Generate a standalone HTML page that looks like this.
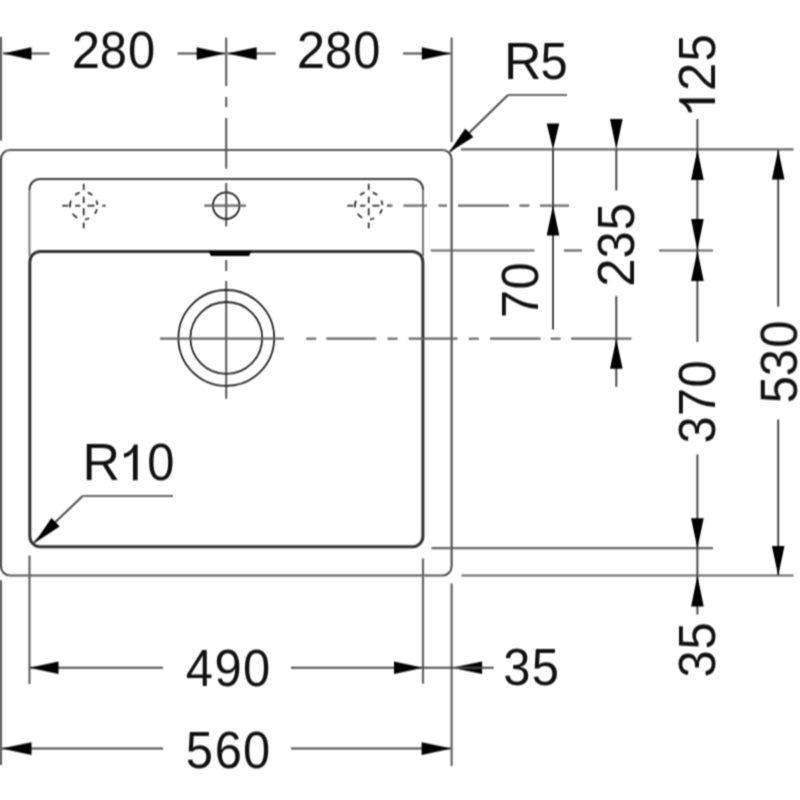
<!DOCTYPE html>
<html><head><meta charset="utf-8"><style>
html,body{margin:0;padding:0;background:#fff;width:800px;height:800px;overflow:hidden}
svg{display:block}
text{font-family:"Liberation Sans",sans-serif;fill:#111}
.g{fill:#111}
.d{stroke:#4a4a4a;stroke-width:2.0}
.e{stroke:#666;stroke-width:2.2}
.o{fill:none;stroke:#555;stroke-width:2.2}
.l{fill:none;stroke:#808080;stroke-width:2.1}
.lt{fill:none;stroke:#3c3c3c;stroke-width:2.0}
.b{fill:none;stroke:#333;stroke-width:3.0}
.c{fill:none;stroke:#222;stroke-width:1.8}
.dm{fill:none;stroke:#333;stroke-width:1.8}
.a{fill:#000;stroke:none}
</style></head><body>
<svg width="800" height="800" viewBox="0 0 800 800">
<defs><filter id="bl" x="0" y="0" width="800" height="800" filterUnits="userSpaceOnUse" color-interpolation-filters="sRGB"><feConvolveMatrix order="3" kernelMatrix="0.0540 0.1620 0.0540 0.0920 0.2760 0.0920 0.0540 0.1620 0.0540" edgeMode="duplicate" preserveAlpha="true"/></filter></defs>
<g filter="url(#bl)">
<rect width="800" height="800" fill="#fff"/>
<line class="e" x1="1" y1="37" x2="1" y2="140.5"/>
<line class="e" x1="451.6" y1="37.5" x2="451.6" y2="142"/>
<line class="d" x1="3" y1="53.5" x2="49.5" y2="53.5"/>
<polygon class="a" points="3.00,53.50 31.50,59.80 31.50,47.20"/>
<line class="d" x1="177.5" y1="53.5" x2="225" y2="53.5"/>
<polygon class="a" points="225.20,53.50 196.70,47.20 196.70,59.80"/>
<line class="d" x1="227.5" y1="53.5" x2="275.7" y2="53.5"/>
<polygon class="a" points="227.20,53.50 256.70,59.80 256.70,47.20"/>
<line class="d" x1="403" y1="53.5" x2="450.5" y2="53.5"/>
<polygon class="a" points="450.80,53.50 421.80,47.20 421.80,59.80"/>
<g transform="translate(0,67.7)"><text transform="translate(85.80,0) scale(0.98,1)" x="0" y="0" text-anchor="middle" font-size="52">2</text><text transform="translate(113.45,0) scale(0.94,1)" x="0" y="0" text-anchor="middle" font-size="52">8</text><text transform="translate(141.70,0) scale(0.94,1)" x="0" y="0" text-anchor="middle" font-size="52">0</text></g>
<g transform="translate(0,67.7)"><text transform="translate(310.95,0) scale(0.98,1)" x="0" y="0" text-anchor="middle" font-size="52">2</text><text transform="translate(338.60,0) scale(0.94,1)" x="0" y="0" text-anchor="middle" font-size="52">8</text><text transform="translate(366.85,0) scale(0.94,1)" x="0" y="0" text-anchor="middle" font-size="52">0</text></g>
<line class="e" x1="226.2" y1="37.5" x2="226.2" y2="86"/>
<line class="e" x1="226.2" y1="97" x2="226.2" y2="107"/>
<line class="e" x1="226.2" y1="118" x2="226.2" y2="168.6"/>
<line class="e" x1="226.2" y1="183" x2="226.2" y2="226.5"/>
<line class="e" x1="226.2" y1="260" x2="226.2" y2="271"/>
<line class="e" x1="226.2" y1="281" x2="226.2" y2="398.75"/>
<rect class="o" x="1" y="150" width="450.6" height="425.5" rx="9" ry="9"/>
<path class="l" d="M29.5,256 V189 M423,189 V256"/>
<path class="lt" d="M29.5,189.5 a10.5,10.5 0 0 1 10.5,-10.5 H412.5 a10.5,10.5 0 0 1 10.5,10.5"/>
<rect class="b" x="29.8" y="251.4" width="393.1" height="295.4" rx="10.5" ry="10.5"/>
<polygon class="a" points="208.5,251 251.5,251 249,256 211,256"/>
<circle class="c" cx="226.2" cy="205.6" r="13.3"/>
<line class="e" x1="204.25" y1="205.6" x2="246" y2="205.6"/>
<path class="dm" d="M79.69,192.60A13.7,13.7 0 0 0 75.08,195.05M92.32,195.05A13.7,13.7 0 0 0 87.71,192.60M97.38,205.05A13.7,13.7 0 0 0 96.37,200.48M94.87,213.64A13.7,13.7 0 0 0 96.95,209.20M84.99,219.34A13.7,13.7 0 0 0 89.29,218.21M72.62,213.75A13.7,13.7 0 0 0 77.27,217.80M70.94,200.70A13.7,13.7 0 0 0 70.10,207.32"/>
<line class="dm" x1="83.7" y1="183.89999999999998" x2="83.7" y2="189.89999999999998"/>
<line class="dm" x1="83.7" y1="196.7" x2="83.7" y2="203.2"/>
<line class="dm" x1="83.7" y1="208.2" x2="83.7" y2="215.39999999999998"/>
<line class="dm" x1="83.7" y1="222.6" x2="83.7" y2="228.29999999999998"/>
<line class="dm" x1="62.2" y1="205.7" x2="68.4" y2="205.7"/>
<line class="dm" x1="75.10000000000001" y1="205.7" x2="80.4" y2="205.7"/>
<line class="dm" x1="87.3" y1="205.7" x2="94.5" y2="205.7"/>
<line class="dm" x1="102.30000000000001" y1="205.7" x2="105.7" y2="205.7"/>
<path class="dm" d="M364.69,192.60A13.7,13.7 0 0 0 360.08,195.05M377.32,195.05A13.7,13.7 0 0 0 372.71,192.60M382.38,205.05A13.7,13.7 0 0 0 381.37,200.48M379.87,213.64A13.7,13.7 0 0 0 381.95,209.20M369.99,219.34A13.7,13.7 0 0 0 374.29,218.21M357.62,213.75A13.7,13.7 0 0 0 362.27,217.80M355.94,200.70A13.7,13.7 0 0 0 355.10,207.32"/>
<line class="dm" x1="368.7" y1="183.89999999999998" x2="368.7" y2="189.89999999999998"/>
<line class="dm" x1="368.7" y1="196.7" x2="368.7" y2="203.2"/>
<line class="dm" x1="368.7" y1="208.2" x2="368.7" y2="215.39999999999998"/>
<line class="dm" x1="368.7" y1="222.6" x2="368.7" y2="228.29999999999998"/>
<line class="dm" x1="347.2" y1="205.7" x2="353.4" y2="205.7"/>
<line class="dm" x1="360.09999999999997" y1="205.7" x2="365.4" y2="205.7"/>
<line class="dm" x1="372.3" y1="205.7" x2="379.5" y2="205.7"/>
<line class="dm" x1="387.3" y1="205.7" x2="390.7" y2="205.7"/>
<circle class="c" cx="226.3" cy="337.9" r="47.9"/>
<circle class="c" cx="226.3" cy="337.9" r="35.9"/>
<line class="e" x1="160" y1="338.7" x2="284" y2="338.7"/>
<line class="e" x1="306.25" y1="338.7" x2="316.25" y2="338.7"/>
<line class="e" x1="326.25" y1="338.7" x2="376.25" y2="338.7"/>
<line class="e" x1="387.5" y1="338.7" x2="397.5" y2="338.7"/>
<line class="e" x1="408.75" y1="338.7" x2="457.5" y2="338.7"/>
<line class="e" x1="468.75" y1="338.7" x2="478.75" y2="338.7"/>
<line class="e" x1="490" y1="338.7" x2="540.6" y2="338.7"/>
<line class="e" x1="550.6" y1="338.7" x2="560.6" y2="338.7"/>
<line class="e" x1="571" y1="338.7" x2="631.5" y2="338.7"/>
<line class="e" x1="387" y1="205.6" x2="392.5" y2="205.6"/>
<line class="e" x1="403.5" y1="205.6" x2="427" y2="205.6"/>
<line class="e" x1="438.5" y1="205.6" x2="447" y2="205.6"/>
<line class="e" x1="458" y1="205.6" x2="509" y2="205.6"/>
<line class="e" x1="519.4" y1="205.6" x2="529.4" y2="205.6"/>
<line class="e" x1="540" y1="205.6" x2="569" y2="205.6"/>
<line class="e" x1="461" y1="149.4" x2="793.6" y2="149.4"/>
<line class="e" x1="430.6" y1="250.5" x2="534.5" y2="250.5"/>
<line class="e" x1="564" y1="250.5" x2="582" y2="250.5"/>
<line class="e" x1="659" y1="250.5" x2="713" y2="250.5"/>
<line class="e" x1="431.5" y1="548.2" x2="713" y2="548.2"/>
<line class="e" x1="461.5" y1="575.5" x2="793.6" y2="575.5"/>
<line class="d" x1="553" y1="149" x2="553" y2="329.5"/>
<polygon class="a" points="553.00,149.40 559.30,123.40 546.70,123.40"/>
<polygon class="a" points="553.00,205.60 546.70,235.60 559.30,235.60"/>
<g transform="translate(537.8,0) rotate(-90)"><text transform="translate(-304.00,0) scale(0.97,1)" x="0" y="0" text-anchor="middle" font-size="52">7</text><text transform="translate(-276.00,0) scale(0.94,1)" x="0" y="0" text-anchor="middle" font-size="52">0</text></g>
<line class="d" x1="616.3" y1="149" x2="616.3" y2="190.5"/>
<line class="d" x1="616.3" y1="296" x2="616.3" y2="386.75"/>
<polygon class="a" points="616.30,149.40 622.60,118.90 610.00,118.90"/>
<polygon class="a" points="616.30,338.70 610.00,368.70 622.60,368.70"/>
<g transform="translate(634.2,0) rotate(-90)"><text transform="translate(-272.60,0) scale(0.98,1)" x="0" y="0" text-anchor="middle" font-size="52">2</text><text transform="translate(-244.90,0) scale(0.94,1)" x="0" y="0" text-anchor="middle" font-size="52">3</text><text transform="translate(-216.75,0) scale(0.94,1)" x="0" y="0" text-anchor="middle" font-size="52">5</text></g>
<line class="d" x1="697.4" y1="119" x2="697.4" y2="342"/>
<line class="d" x1="697.4" y1="454.5" x2="697.4" y2="614.5"/>
<polygon class="a" points="697.40,149.40 691.10,179.90 703.70,179.90"/>
<polygon class="a" points="697.40,250.50 703.70,219.00 691.10,219.00"/>
<polygon class="a" points="697.40,250.50 691.10,281.00 703.70,281.00"/>
<polygon class="a" points="697.40,548.20 703.70,518.20 691.10,518.20"/>
<polygon class="a" points="697.40,575.50 691.10,606.50 703.70,606.50"/>
<g transform="translate(715,0) rotate(-90)"><path class="g" transform="translate(-117.15,0)" d="M18.6,0V-35.8H14.9C13.7,-32 10.3,-28.1 4.9,-26.6V-22.5C9.3,-23.5 12.3,-25.4 13.9,-28.4V0Z"/><text transform="translate(-76.90,0) scale(0.98,1)" x="0" y="0" text-anchor="middle" font-size="52">2</text><text transform="translate(-48.00,0) scale(0.94,1)" x="0" y="0" text-anchor="middle" font-size="52">5</text></g>
<g transform="translate(714.5,0) rotate(-90)"><text transform="translate(-429.80,0) scale(0.94,1)" x="0" y="0" text-anchor="middle" font-size="52">3</text><text transform="translate(-401.90,0) scale(0.97,1)" x="0" y="0" text-anchor="middle" font-size="52">7</text><text transform="translate(-374.00,0) scale(0.94,1)" x="0" y="0" text-anchor="middle" font-size="52">0</text></g>
<g transform="translate(714.8,0) rotate(-90)"><text transform="translate(-664.00,0) scale(0.94,1)" x="0" y="0" text-anchor="middle" font-size="52">3</text><text transform="translate(-635.80,0) scale(0.94,1)" x="0" y="0" text-anchor="middle" font-size="52">5</text></g>
<line class="d" x1="778.2" y1="150" x2="778.2" y2="306.6"/>
<line class="d" x1="778.2" y1="419.5" x2="778.2" y2="575"/>
<polygon class="a" points="778.20,149.40 771.90,179.40 784.50,179.40"/>
<polygon class="a" points="778.20,575.50 784.50,546.00 771.90,546.00"/>
<g transform="translate(796.8,0) rotate(-90)"><text transform="translate(-389.75,0) scale(0.94,1)" x="0" y="0" text-anchor="middle" font-size="52">5</text><text transform="translate(-362.60,0) scale(0.94,1)" x="0" y="0" text-anchor="middle" font-size="52">3</text><text transform="translate(-334.20,0) scale(0.94,1)" x="0" y="0" text-anchor="middle" font-size="52">0</text></g>
<line class="e" x1="508" y1="95" x2="567" y2="95"/>
<line class="d" x1="508" y1="95" x2="450" y2="151.5"/>
<polygon class="a" points="448.90,152.60 473.43,136.93 465.19,128.48"/>
<g transform="translate(0,78.8)"><text transform="translate(522.72,0) scale(1.0,1)" x="0" y="0" text-anchor="middle" font-size="52">R</text><text transform="translate(554.15,0) scale(0.94,1)" x="0" y="0" text-anchor="middle" font-size="52">5</text></g>
<line class="e" x1="82.7" y1="496" x2="173" y2="496"/>
<line class="d" x1="82.7" y1="496" x2="34" y2="542.5"/>
<polygon class="a" points="34.40,542.90 59.67,526.58 51.45,518.12"/>
<g transform="translate(0,480.2)"><text transform="translate(101.17,0) scale(1.0,1)" x="0" y="0" text-anchor="middle" font-size="52">R</text><path class="g" transform="translate(119.05,0)" d="M18.6,0V-35.8H14.9C13.7,-32 10.3,-28.1 4.9,-26.6V-22.5C9.3,-23.5 12.3,-25.4 13.9,-28.4V0Z"/><text transform="translate(160.75,0) scale(0.94,1)" x="0" y="0" text-anchor="middle" font-size="52">0</text></g>
<line class="e" x1="1" y1="580.25" x2="1" y2="765"/>
<line class="e" x1="29.5" y1="555.5" x2="29.5" y2="684"/>
<line class="e" x1="423" y1="558.5" x2="423" y2="683.75"/>
<line class="e" x1="451.6" y1="583.5" x2="451.6" y2="766"/>
<line class="d" x1="29.5" y1="667.7" x2="163" y2="667.7"/>
<polygon class="a" points="29.50,667.70 58.50,674.00 58.50,661.40"/>
<line class="d" x1="291" y1="667.7" x2="422.5" y2="667.7"/>
<polygon class="a" points="423.00,667.70 394.00,661.40 394.00,674.00"/>
<polygon class="a" points="451.60,667.70 482.10,674.00 482.10,661.40"/>
<line class="d" x1="423" y1="667.7" x2="493.75" y2="667.7"/>
<g transform="translate(0,685.8)"><text transform="translate(199.40,0) scale(0.94,1)" x="0" y="0" text-anchor="middle" font-size="52">4</text><text transform="translate(228.10,0) scale(0.94,1)" x="0" y="0" text-anchor="middle" font-size="52">9</text><text transform="translate(256.60,0) scale(0.94,1)" x="0" y="0" text-anchor="middle" font-size="52">0</text></g>
<g transform="translate(0,684.8)"><text transform="translate(516.85,0) scale(0.94,1)" x="0" y="0" text-anchor="middle" font-size="52">3</text><text transform="translate(545.30,0) scale(0.94,1)" x="0" y="0" text-anchor="middle" font-size="52">5</text></g>
<line class="d" x1="2" y1="748.6" x2="163" y2="748.6"/>
<polygon class="a" points="1.50,748.60 31.50,754.90 31.50,742.30"/>
<line class="d" x1="291" y1="748.6" x2="450.5" y2="748.6"/>
<polygon class="a" points="451.60,748.60 421.60,742.30 421.60,754.90"/>
<g transform="translate(0,767.5)"><text transform="translate(199.40,0) scale(0.94,1)" x="0" y="0" text-anchor="middle" font-size="52">5</text><text transform="translate(228.40,0) scale(0.94,1)" x="0" y="0" text-anchor="middle" font-size="52">6</text><text transform="translate(256.60,0) scale(0.94,1)" x="0" y="0" text-anchor="middle" font-size="52">0</text></g>
</g>
</svg>
</body></html>
